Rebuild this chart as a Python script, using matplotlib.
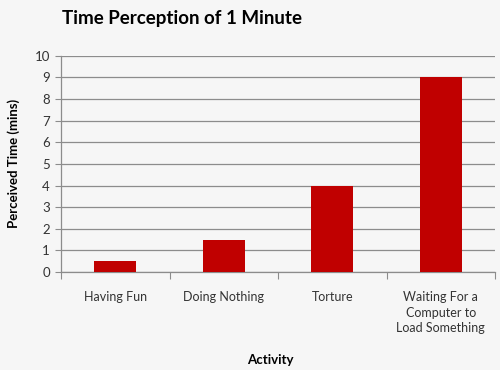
import matplotlib
matplotlib.use("Agg")
import matplotlib.pyplot as plt

activities = ["Having Fun", "Doing Nothing", "Torture",
              "Waiting For a\nComputer to\nLoad Something"]
minutes = [0.5, 1.5, 4, 9]
yticks = list(range(0, 11))

plt.rcParams['font.family'] = ['Lato', 'DejaVu Sans']

fig = plt.figure(figsize=(5, 3.7), dpi=100, facecolor="#f6f6f6")
ax = fig.add_axes([0.122, 0.265, 0.868, 0.584])
ax.set_facecolor("#f6f6f6")

x = range(len(activities))
ax.bar(x, minutes, width=0.39, color="#c00000", zorder=3)

ax.set_xlim(-0.5, len(activities) - 0.5)
ax.set_ylim(0, 10)
ax.set_yticks(yticks)
ax.grid(axis="y", color="#8c8c8c", linewidth=0.9, zorder=0)

for s in ["top", "right"]:
    ax.spines[s].set_visible(False)
for s in ["left", "bottom"]:
    ax.spines[s].set_color("#8c8c8c")
    ax.spines[s].set_linewidth(0.9)

# boundary ticks between categories, labels centred under bars
ax.set_xticks([i + 0.5 for i in range(-1, len(activities))])
ax.set_xticklabels([])
ax.tick_params(axis="x", length=5, color="#8c8c8c")
ax.set_xticks(list(x), minor=True)
ax.set_xticklabels(activities, minor=True, fontsize=9, color="#333333",
                   linespacing=1.35)
ax.tick_params(axis="x", which="minor", length=0, pad=14)
ax.tick_params(axis="y", length=4, color="#8c8c8c", labelsize=9.5,
               labelcolor="#333333", pad=4)

ax.set_ylabel("Perceived Time (mins)", fontsize=9.5, fontweight="bold")
ax.yaxis.set_label_coords(-0.095, 0.5)
fig.text(0.54, 0.027, "Activity", fontsize=9.5, fontweight="bold", ha="center", va="center")
fig.text(0.123, 0.95, "Time Perception of 1 Minute", fontsize=13.5,
         fontweight="bold", ha="left", va="center")

fig.savefig("out.png", dpi=100, facecolor=fig.get_facecolor())
